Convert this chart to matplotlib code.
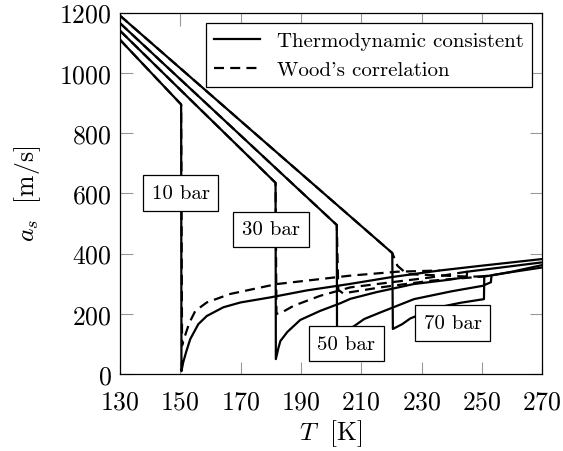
import numpy as np
import matplotlib
matplotlib.use("Agg")
import matplotlib.pyplot as plt

plt.rcParams['font.family'] = 'cmr10'
plt.rcParams['mathtext.fontset'] = 'cm'
plt.rcParams['axes.formatter.use_mathtext'] = True
plt.rcParams['axes.unicode_minus'] = False

# Thermodynamic consistent speed of sound, one curve per pressure
T_10 = [130, 140, 150.3, 150.4, 151, 152, 153.3, 156, 158.8, 164.3, 170, 180, 192, 206, 220, 236, 250, 260, 270]
a_10 = [1110, 1004, 895, 10, 40, 75, 116, 166, 193, 222, 238, 255, 278, 299, 322, 344, 360, 371, 382]

T_30 = [130, 155, 181.6, 181.7, 182.5, 183.2, 185.5, 189.8, 196.4, 203, 206.4, 215, 227.4, 238, 245, 245.1, 258, 270]
a_30 = [1140, 895, 635, 50, 85, 110, 140, 180, 210, 235, 250, 272, 299, 312, 322, 340, 356, 371]

T_50 = [130, 165, 201.9, 202.0, 203, 205, 207, 211, 216.4, 227.5, 240, 250.2, 253, 253.2, 260, 270]
a_50 = [1165, 839, 495, 60, 100, 135, 155, 183, 205, 249, 275, 293, 305, 328, 340, 362]

T_70 = [130, 175, 220.3, 220.5, 223.6, 226.3, 235.2, 243, 250.7, 250.8, 260, 270]
a_70 = [1190, 797, 402, 150, 166, 185, 221, 237, 249, 324, 339, 354]

# Wood's correlation (dashed), two-phase branch up to the dew point
Tw_10 = [130, 140, 150.3, 150.6, 151.2, 153, 155, 158.8, 166.5, 182, 206.4, 222, 236]
aw_10 = [1110, 1004, 895, 95, 116, 170, 210, 238, 266, 299, 327, 340, 344]

Tw_30 = [130, 155, 181.6, 181.9, 183.7, 187.6, 196.4, 206.4, 220, 233, 245.1]
aw_30 = [1140, 895, 635, 200, 205, 227, 260, 288, 305, 321, 340]

Tw_50 = [130, 165, 201.9, 202.4, 204, 205.8, 216.4, 233, 248, 253.2]
aw_50 = [1165, 839, 495, 280, 268, 271, 288, 310, 322, 328]

Tw_70 = [130, 175, 220.3, 222, 225.2, 235, 245, 250.8]
aw_70 = [1190, 797, 402, 360, 332, 328, 324, 324]

labels = ['10 bar', '30 bar', '50 bar', '70 bar']
label_T = [150.1, 180.1, 205.1, 240.3]
label_a = [601, 480, 101, 170]

fig, ax = plt.subplots(figsize=(5.63, 4.52), dpi=100)
fig.subplots_adjust(left=0.213, right=0.963, bottom=0.170, top=0.970)

lw = 1.6
dash = (0, (4.5, 2.8))
for Tw, aw in [(Tw_10, aw_10), (Tw_30, aw_30), (Tw_50, aw_50), (Tw_70, aw_70)]:
    ax.plot(Tw, aw, color='black', lw=lw, linestyle=dash)
for T, a in [(T_10, a_10), (T_30, a_30), (T_50, a_50), (T_70, a_70)]:
    ax.plot(T, a, color='black', lw=lw)

# legend proxies
ax.plot([], [], color='black', lw=lw, label='Thermodynamic consistent')
ax.plot([], [], color='black', lw=lw, linestyle=dash, label="Wood's correlation")

for txt, x, y in zip(labels, label_T, label_a):
    ax.text(x, y, txt, fontsize=15, ha='center', va='center', zorder=5,
            bbox=dict(boxstyle='square,pad=0.42', fc='white', ec='black', lw=0.9))

ax.set_xlim(130, 270)
ax.set_ylim(0, 1200)
ax.set_xticks(np.arange(130, 271, 20))
ax.set_yticks(np.arange(0, 1201, 200))
ax.tick_params(direction='in', top=True, right=True, length=9, width=0.8,
               color='#999999', labelsize=18.5)
ax.tick_params(axis='x', pad=11)
ax.tick_params(axis='y', pad=6)
for s in ax.spines.values():
    s.set_linewidth(0.9)

ax.set_xlabel(r'$T\ \ [\mathrm{K}]$', fontsize=18.5, labelpad=3)
ax.set_ylabel(r'$a_s\ \ [\mathrm{m/s}]$', fontsize=18.5, labelpad=12)

handles, labs = ax.get_legend_handles_labels()
leg = ax.legend(handles[-2:], labs[-2:], loc='upper right', fontsize=15, frameon=True,
                fancybox=False, edgecolor='black', framealpha=1, handlelength=2.2,
                borderaxespad=0.5, labelspacing=0.5)
leg.get_frame().set_linewidth(0.9)

plt.savefig('out.png', dpi=100)
